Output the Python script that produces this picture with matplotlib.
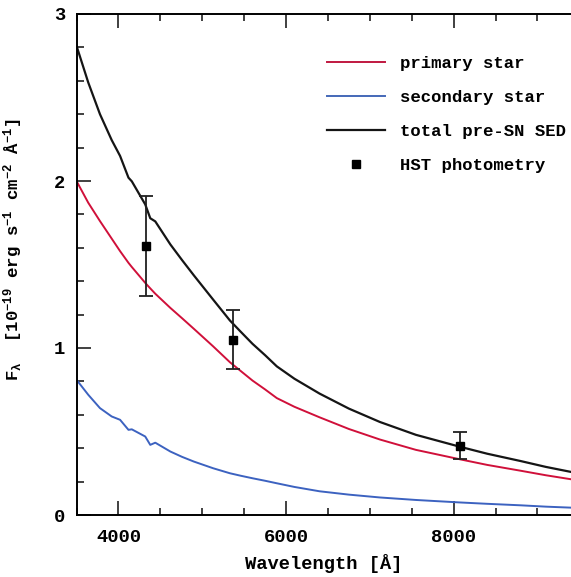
import matplotlib
matplotlib.use('Agg')
import matplotlib.pyplot as plt
from matplotlib.ticker import MultipleLocator
from matplotlib.lines import Line2D

plt.rcParams['font.family'] = ['Liberation Mono', 'DejaVu Sans Mono']
plt.rcParams['font.weight'] = 'bold'
plt.rcParams['axes.labelweight'] = 'bold'
plt.rcParams['mathtext.fontset'] = 'custom'
plt.rcParams['mathtext.rm'] = 'Liberation Mono:bold'
plt.rcParams['mathtext.it'] = 'Liberation Mono:bold'
plt.rcParams['mathtext.bf'] = 'Liberation Mono:bold'

# wavelength grid (Angstrom)
wave = [3500, 3640, 3780, 3920, 4020, 4120, 4160, 4320, 4380, 4440, 4620,
        4760, 4900, 5130, 5330, 5460, 5600, 5750, 5890, 6100, 6400, 6750,
        7120, 7550, 8080, 8400, 8800, 9100, 9450]
# primary star flux (1e-19 erg/s/cm2/A)
primary = [2.00, 1.87, 1.76, 1.655, 1.58, 1.51, 1.485, 1.39, 1.357, 1.325, 1.24,
           1.178, 1.115, 1.01, 0.915, 0.862, 0.805, 0.752, 0.70, 0.648, 0.585, 0.515,
           0.452, 0.39, 0.333, 0.30, 0.265, 0.238, 0.21]
# secondary star flux
secondary = [0.81, 0.72, 0.64, 0.59, 0.57, 0.51, 0.513, 0.47, 0.42, 0.433, 0.38,
             0.348, 0.32, 0.28, 0.25, 0.235, 0.22, 0.205, 0.19, 0.168, 0.142, 0.122,
             0.105, 0.09, 0.075, 0.067, 0.058, 0.05, 0.043]
total = [p + s for p, s in zip(primary, secondary)]

# HST photometry
hst_wave = [4330, 5370, 8080]
hst_flux = [1.61, 1.05, 0.415]
hst_err = [0.30, 0.175, 0.08]

fig = plt.figure(figsize=(5.71, 5.77), dpi=100)
ax = fig.add_axes([76.5 / 571, 62 / 577, 1 - 76.5 / 571, (515 - 14) / 577])

ax.plot(wave, primary, color='#d0103a', lw=1.4)
ax.plot(wave, secondary, color='#3c62c0', lw=1.4)
ax.plot(wave, total, color='#151515', lw=1.6)
ax.errorbar(hst_wave, hst_flux, yerr=hst_err, fmt='s', color='black', ms=6,
            ecolor='#202020', elinewidth=1.3, capsize=5, capthick=1.3)

handles = [Line2D([], [], color='#c01840', lw=1.4),
           Line2D([], [], color='#4468b8', lw=1.4),
           Line2D([], [], color='#151515', lw=1.6),
           Line2D([], [], color='black', marker='s', ms=6, ls='none')]
labels = ['primary star', 'secondary star', 'total pre-SN SED', 'HST photometry']

ax.set_xlim(3500, 9400)
ax.set_ylim(0, 3)
ax.xaxis.set_major_locator(MultipleLocator(2000))
ax.xaxis.set_minor_locator(MultipleLocator(500))
ax.yaxis.set_major_locator(MultipleLocator(1))
ax.yaxis.set_minor_locator(MultipleLocator(0.2))
ax.tick_params(which='both', direction='in', top=True, right=False, width=1.2,
               labelsize=13.5, color='#202020')
ax.tick_params(which='major', length=10, pad=8)
ax.tick_params(axis='x', which='major', pad=10)
ax.tick_params(which='minor', length=5)
ax.spines['right'].set_visible(False)
for s in ['left', 'bottom', 'top']:
    ax.spines[s].set_linewidth(1.4)

ax.set_xlabel('Wavelength [Å]', fontsize=13.5, labelpad=6)
ax.set_ylabel(r'$\mathrm{F_{\lambda}}$  [10$^{-19}$ erg s$^{-1}$ cm$^{-2}$ Å$^{-1}$]',
              fontsize=12.5)
ax.yaxis.set_label_coords(-0.105, 0.53)

ax.legend(handles, labels, loc='upper left', frameon=False, fontsize=12.4,
          handlelength=3.35, handletextpad=0.9, labelspacing=1.1,
          borderaxespad=0.0, bbox_to_anchor=(0.4924, 0.930))

fig.savefig('out.png', dpi=100)
